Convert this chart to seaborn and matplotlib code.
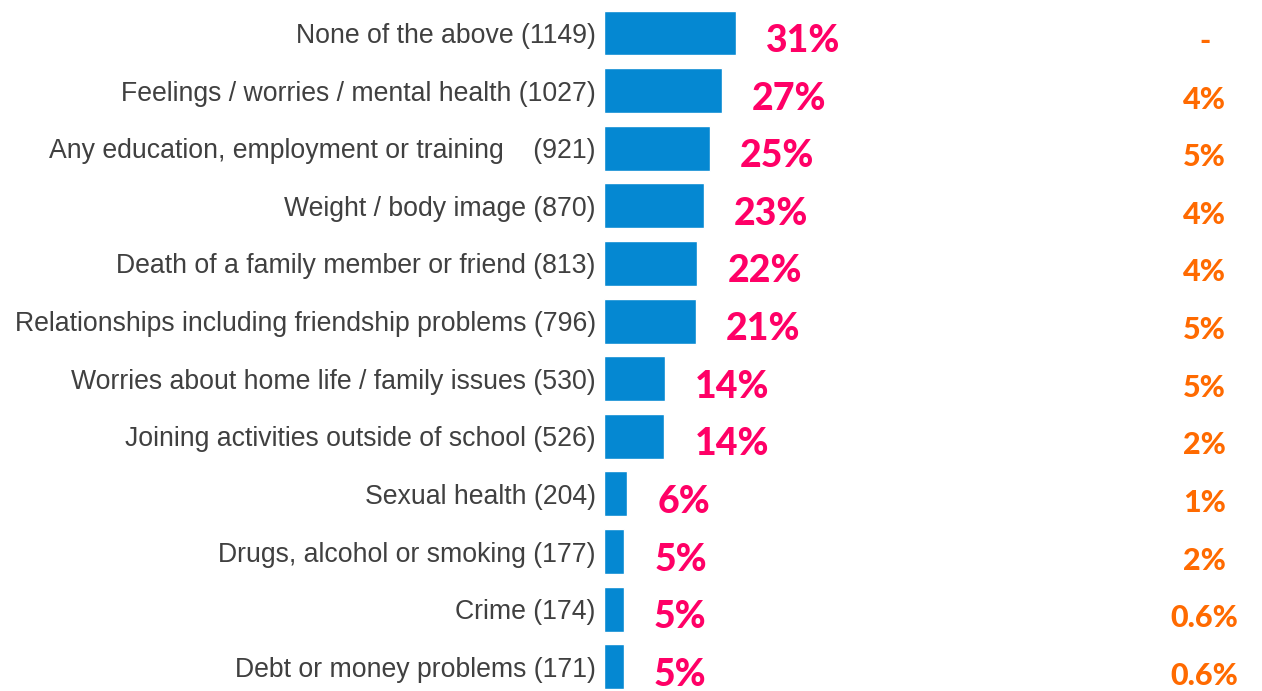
import pandas as pd
import numpy as np
import matplotlib.pyplot as plt
import seaborn as sns

# data
labels = ["None of the above (1149)", "Feelings / worries / mental health (1027)",
          "Any education, employment or training    (921)", "Weight / body image (870)",
          "Death of a family member or friend (813)",
          "Relationships including friendship problems (796)",
          "Worries about home life / family issues (530)",
          "Joining activities outside of school (526)", "Sexual health (204)",
          "Drugs, alcohol or smoking (177)", "Crime (174)", "Debt or money problems (171)"]
counts = [1149, 1027, 921, 870, 813, 796, 530, 526, 204, 177, 174, 171]
share = ["31%", "27%", "25%", "23%", "22%", "21%", "14%", "14%", "6%", "5%", "5%", "5%"]
other = ["-", "4%", "5%", "4%", "4%", "5%", "5%", "2%", "1%", "2%", "0.6%", "0.6%"]

df = pd.DataFrame({"topic": labels, "count": counts})

sns.set_style("white")
plt.rcParams['font.family'] = ['Liberation Sans', 'DejaVu Sans']

fig = plt.figure(figsize=(12.62, 6.91), dpi=100)
ax = fig.add_axes([604 / 1262, 0, 658 / 1262, 687 / 691])

sns.barplot(data=df, y="topic", x="count", orient="h", color="#0588d2",
            saturation=1, width=0.78, ax=ax)

ax.set_xlim(0, 5722)
ax.set_ylim(11.42, -0.503)
ax.set_xlabel("")
ax.set_ylabel("")
ax.set_xticks([])
ax.tick_params(axis="y", length=0, pad=6, labelsize=19.2, labelcolor="#404040")
sns.despine(ax=ax, left=True, bottom=True)

for i, (c, s, o) in enumerate(zip(counts, share, other)):
    ax.annotate(s, (c, i), xytext=(30, -8), textcoords="offset pixels",
                ha="left", va="center", color="#ff0066", fontsize=27,
                fontweight="black", family="Lato")
    ax.annotate(o, (0.913, i), xycoords=("axes fraction", "data"),
                xytext=(0, -9), textcoords="offset pixels",
                ha="center", va="center", color="#ff6a00", fontsize=22,
                fontweight="black", family="Lato")

fig.savefig("out.png", dpi=100)
